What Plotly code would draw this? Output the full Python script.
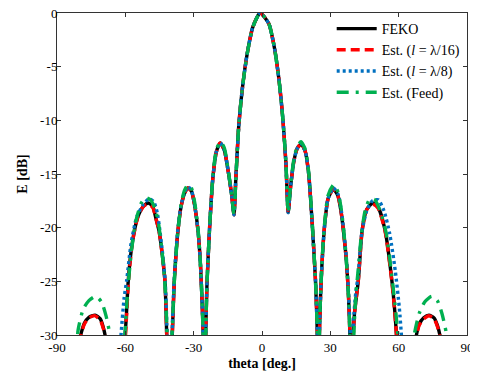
import plotly.graph_objects as go

# ---------------- data ----------------
feko_theta = [-90, -84, -80.6, -79.6, -78, -76, -73.3, -71, -69.8, -68.9, -68.2, -64.5,
              -60.5, -59.5, -58.7, -57, -54.5, -52, -50, -48, -46.5, -45.2, -43.8, -42.6, -41.9, -41.4,
              -40.6, -39.8, -39.4, -38.5, -37, -35.5, -34, -32.5, -31, -29.5, -28, -27, -26.2, -25.7,
              -25.3, -24.8, -24.2, -23, -21.5, -20, -18.3, -16.5, -14.8, -13.3, -12.3,
              -11.5, -10.2, -8.5, -6.5, -4, -0.8, 3, 5.5, 7.5, 9.2, 10.5, 11.5,
              12.5, 14, 15.5, 17.2, 19, 20.5, 22, 23.5, 24.3, 24.7,
              25.2, 25.6, 26.3, 27.4, 29, 31.3, 33.3, 34.7, 35.7, 37, 38, 38.6, 39.2,
              39.9, 40.6, 42.3, 44, 46, 48.6, 51, 54, 57, 58.3, 59.2, 63,
              67.2, 67.8, 69, 71, 73.3, 75.5, 77, 78.1, 78.8, 84, 90]
feko_db = [-45, -45, -31, -30, -28.9, -28.35, -28.15, -28.5, -29.2, -30, -31.5, -45,
           -31.5, -28, -24.9, -21.5, -19, -18, -17.7, -18, -19.2, -20.3, -22.5, -25, -29.5, -34,
           -40, -32, -30, -25, -20.5, -18, -16.8, -16.3, -16.6, -18, -20.5, -23.5, -27.5, -31,
           -40, -31, -25.5, -20, -15.2, -12.9, -12.1, -12.8, -14.8, -17, -18.8,
           -15.5, -10.5, -6.8, -3.8, -1.3, 0, -1.0, -3.3, -6.3, -10, -14, -18.6,
           -16.3, -13.8, -12.6, -12.2, -12.9, -15, -19.5, -25, -30, -40,
           -30, -27, -23.5, -20, -17.3, -16.4, -17, -18.5, -20.2, -23, -26.5, -30, -40,
           -31, -28, -24.9, -20.2, -18.3, -17.7, -18.1, -20.2, -24.9, -27.8, -30.5, -45,
           -31, -30, -29, -28.4, -28.15, -28.4, -29.1, -30, -31, -45, -45]

l16_theta = [-90, -84, -80.5, -79.5, -78, -76, -73.5, -71, -69.8, -68.9, -68.2, -64.5,
             -60.3, -59.4, -58.6, -57, -54.5, -52, -50, -48, -46.5, -45.2, -43.8, -42.6, -41.9, -41.4,
             -40.6, -39.8, -39.4, -38.5, -37, -35.5, -34, -32.6, -31, -29.5, -28, -27, -26.2, -25.7,
             -25.3, -24.8, -24.2, -23, -21.5, -20, -18.4, -16.5, -14.8, -13.3, -12.3,
             -11.5, -10.2, -8.5, -6.5, -4, -0.8, 3, 5.5, 7.5, 9.2, 10.5, 11.5,
             12.5, 14, 15.5, 17.2, 19, 20.5, 22, 23.5, 24.3, 24.7,
             25.2, 25.6, 26.3, 27.4, 29, 31.3, 33.3, 34.7, 35.7, 37, 38, 38.6, 39.2,
             39.9, 40.6, 42.3, 44, 46, 48.6, 51, 54, 57, 58.3, 59.2, 63,
             67.3, 67.9, 69, 71, 73.3, 75.5, 77, 78, 78.7, 84, 90]
l16_db = [-45, -45, -31, -30, -29, -28.4, -28.2, -28.6, -29.3, -30, -31.5, -45,
          -31.5, -28, -24.9, -21.5, -19, -18, -17.8, -18.1, -19.2, -20.3, -22.5, -25, -29.5, -34,
          -40, -32, -30, -25, -20.5, -18, -16.8, -16.3, -16.6, -18, -20.5, -23.5, -27.5, -31,
          -40, -31, -25.5, -20, -15.2, -12.9, -12.1, -12.8, -14.8, -17, -18.8,
          -15.5, -10.5, -6.8, -3.8, -1.3, 0, -1.0, -3.3, -6.3, -10, -14, -18.6,
          -16.3, -13.8, -12.6, -12.2, -12.9, -15, -19.5, -25, -30, -40,
          -30, -27, -23.5, -20, -17.3, -16.4, -17, -18.5, -20.2, -23, -26.5, -30, -40,
          -31, -28, -24.9, -20.2, -18.3, -17.8, -18.2, -20.3, -25, -27.9, -30.5, -45,
          -31, -30, -29.1, -28.5, -28.2, -28.5, -29.2, -30, -31, -45, -45]

l8_theta = [-90, -75, -66,
            -62.5, -61.9, -60.5, -59.4, -57.5, -55, -52, -49.5, -47.5, -46, -45, -43.6, -42.5, -41.8, -41.4,
            -40.6, -39.9, -39.5, -38.6, -37.1, -35.6, -34, -32.5, -31, -29.5, -28, -27, -26.2, -25.7,
            -25.3, -24.8, -24.2, -23, -21.5, -20, -18.3, -16.5, -14.8, -13.3, -12.3,
            -11.5, -10.2, -8.5, -6.5, -4, -0.8, 3, 5.5, 7.5, 9.2, 10.5, 11.5,
            12.5, 14, 15.5, 17.2, 19, 20.5, 22, 23.5, 24.3, 24.7,
            25.2, 25.6, 26.3, 27.4, 29, 31.4, 33.4, 34.8, 35.8, 37.1, 38.1, 38.7, 39.2,
            39.9, 40.4, 41.2, 42.2, 43.8, 46, 48.5, 51, 53.5, 56, 58.5, 60.3, 61.2, 61.8,
            65, 75, 90]
l8_db = [-45, -45, -45,
         -32, -30, -26.5, -24.9, -21.5, -19, -17.8, -17.3, -17.6, -18.6, -20, -22.5, -25, -29, -33,
         -40, -32, -30, -25, -20.5, -18, -16.7, -16.2, -16.5, -18, -20.5, -23.5, -27.5, -31,
         -40, -31, -25.5, -20, -15.2, -12.9, -12.1, -12.8, -14.8, -17, -18.8,
         -15.5, -10.5, -6.8, -3.8, -1.3, 0, -1.0, -3.3, -6.3, -10, -14, -18.6,
         -16.3, -13.8, -12.6, -12.2, -12.9, -15, -19.5, -25, -30, -40,
         -30, -27, -23.5, -20, -17.3, -16.3, -16.9, -18.4, -20.1, -23, -26.5, -30, -40,
         -31, -28, -26, -24.5, -20.5, -18.4, -17.5, -17.4, -18.4, -20.5, -24, -27.5, -30, -32,
         -45, -45, -45]

feed_theta = [-90, -85, -81.5, -80.7, -78.5, -76, -73, -70.5, -68.5, -67, -66.3, -63.5,
              -61, -60.2, -59, -57.5, -55.5, -53, -51, -49, -47, -45.5, -44, -42.7, -41.8, -41.4,
              -40.6, -39.9, -39.5, -38.5, -37, -35.5, -34, -32.5, -31, -29.5, -28, -27, -26.2, -25.7,
              -25.3, -24.8, -24.2, -23, -21.5, -20, -18.2, -16.5, -14.8, -13.3, -12.3,
              -11.5, -10.2, -8.5, -6.5, -4, -0.8, 3, 5.5, 7.5, 9.2, 10.5, 11.5,
              12.5, 14, 15.5, 17.1, 19, 20.5, 22, 23.5, 24.3, 24.7,
              25.2, 25.6, 26.3, 27.4, 29, 31.5, 33.4, 34.8, 35.8, 37, 38, 38.6, 39.2,
              39.9, 40.5, 41.3, 42.2, 43.7, 45.5, 47.5, 49.5, 52, 54.5, 57, 58.8, 60, 63.5,
              66.3, 67, 69, 71.5, 74.5, 77, 79, 80.8, 81.5, 85, 90]
feed_db = [-45, -45, -31.5, -29.5, -27.6, -26.8, -26.4, -26.9, -28.2, -29.7, -31, -45,
           -32, -30, -26, -22.5, -19.5, -17.7, -17.2, -17.4, -18.2, -19.5, -22, -25, -29, -33,
           -40, -32, -30, -25, -20.5, -17.8, -16.5, -16.0, -16.3, -17.7, -20.3, -23.5, -27.5, -31,
           -40, -31, -25.5, -20, -15, -12.7, -12.0, -12.6, -14.7, -17, -18.8,
           -15.5, -10.5, -6.8, -3.8, -1.3, 0, -1.0, -3.3, -6.3, -10, -14, -18.6,
           -16.2, -13.6, -12.4, -12.0, -12.7, -14.8, -19.3, -25, -30, -40,
           -30, -27, -23.3, -19.8, -17.0, -16.0, -16.7, -18.3, -20.1, -23, -26.5, -30, -40,
           -33, -29, -26, -24, -20.5, -18.2, -17.3, -17.4, -18.5, -20.5, -24.5, -28, -31, -45,
           -31, -29.8, -28, -26.9, -26.4, -26.8, -28, -29.7, -31, -45, -45]

series_names = ["FEKO", "Est. (<i>l</i> = λ/16)", "Est. (<i>l</i> = λ/8)", "Est. (Feed)"]
x_ticks = [-90, -60, -30, 0, 30, 60, 90]
y_ticks = [0, -5, -10, -15, -20, -25, -30]

# ---------------- figure ----------------
fig = go.Figure()
styles = [
    (feko_theta, feko_db, "#000000", "solid", 3.4),
    (l16_theta, l16_db, "#ff0000", "9px,5px", 3.4),
    (l8_theta, l8_db, "#0070c0", "3px,3px", 3.4),
    (feed_theta, feed_db, "#00b050", "12px,7px,3px,7px", 3.4),
]
for (x, y, c, d, w), name in zip(styles, series_names):
    fig.add_trace(go.Scatter(x=x, y=y, mode="lines", name=name,
                             line=dict(color=c, dash=d, width=w, shape="spline", smoothing=0.6)))

serif = "Liberation Serif, Times New Roman, serif"
axis_common = dict(showline=True, linecolor="#333333", linewidth=1, mirror="ticks",
                   ticks="inside", ticklen=4, tickcolor="#333333", showgrid=False,
                   zeroline=False, automargin=False, ticklabeloverflow="allow",
                   tickfont=dict(family=serif, size=13, color="#000"))
fig.update_xaxes(range=[-90, 90], tickvals=x_ticks, ticktext=[str(v) for v in x_ticks],
                 title=dict(text="<b>theta [deg.]</b>", font=dict(family=serif, size=14, color="#000"),
                            standoff=4), **axis_common)
fig.update_yaxes(range=[-30, 0], tickvals=y_ticks, ticktext=[str(v) for v in y_ticks],
                 ticklabelstandoff=-4,
                 title=dict(text="<b>E [dB]</b>", font=dict(family=serif, size=14, color="#000"),
                            standoff=9), **axis_common)

# the page body has an 8 px margin, so the figure is sized to fit the window
fig.update_layout(
    width=470, height=368,
    margin=dict(l=49, r=11, t=5, b=41, autoexpand=False),
    paper_bgcolor="white", plot_bgcolor="white",
    showlegend=True,
    legend=dict(x=0.67, y=1.0, xanchor="left", yanchor="top", bgcolor="rgba(0,0,0,0)",
                font=dict(family=serif, size=14, color="#000"), tracegroupgap=0,
                itemwidth=40),
)

fig.write_html("out.html")
